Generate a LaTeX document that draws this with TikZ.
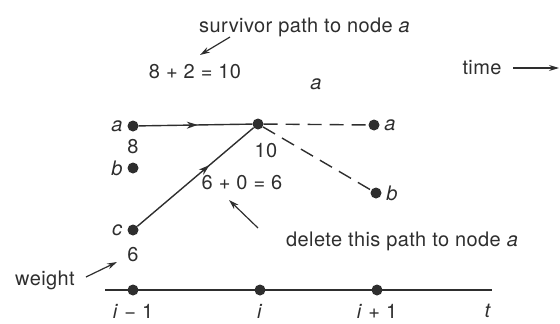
\documentclass[tikz,border=0pt]{standalone}
\usepackage{fontspec}
\setmainfont{TeX Gyre Heros}[LetterSpace=2]
\usetikzlibrary{decorations.markings,arrows.meta}
\definecolor{ink}{HTML}{2E2E2E}
\newcommand{\lblfont}{\fontsize{20}{22}\selectfont}
\tikzset{
  dot/.style={circle,fill=ink,draw=none,inner sep=0pt,minimum size=11pt},
  lbl/.style={text=ink,inner sep=0pt,font=\lblfont},
  ilbl/.style={text=ink,inner sep=0pt,font=\lblfont\itshape},
  conn/.style={draw=ink,line width=1.4pt},
  midarrow/.style={conn,postaction={decorate},decoration={markings,mark=at position #1 with {\arrow{Stealth[length=11pt,width=7pt]}}}},
  dashconn/.style={conn,dash pattern=on 14pt off 8pt},
  note/.style={draw=ink,line width=1.2pt,-{Stealth[length=10pt,width=6pt]}},
}
\begin{document}
\begin{tikzpicture}[x=1pt,y=-1pt]
\useasboundingbox (0,0) rectangle (560,324);
% trellis nodes
\node[dot] (a1) at (133,126) {};
\node[dot] (b1) at (133,168) {};
\node[dot] (c1) at (133,230) {};
\node[dot] (a2) at (258,124) {};
\node[dot] (a3) at (374,125) {};
\node[dot] (b3) at (376,193) {};
% connectors
\draw[midarrow=0.52] (a1) -- (a2);
\draw[midarrow=0.62] (c1) -- (a2);
\draw[dashconn] (a2) -- (a3);
\draw[dashconn] (a2) -- (b3);
% node labels
\node[ilbl] at (117,126) {a};
\node[lbl] at (133,147) {8};
\node[ilbl] at (117,168) {b};
\node[ilbl] at (117,230) {c};
\node[lbl] (w6) at (133,255) {6};
\node[lbl] at (266,151) {10};
\node[ilbl] at (390,125) {a};
\node[ilbl] at (392,193) {b};
\node[ilbl] at (316,84) {a};
\node[lbl] at (195,72) {8 + 2 = 10};
\node[lbl] at (242,183) {6 + 0 = 6};
% annotations
\node[lbl,anchor=west] (surv) at (199,27) {survivor path to node \textit{a}};
\coordinate (survtip) at (200,55);
\draw[note] (230,37) -- (survtip);
\node[lbl,anchor=west] (del) at (286,241) {delete this path to node \textit{a}};
\coordinate (deltip) at (229,200);
\draw[note] (258,228) -- (deltip);
\node[lbl] (wt) at (45,280) {weight};
\coordinate (wttip) at (117,262);
\draw[note] (86,277) -- (wttip);
\node[lbl] (time) at (482,68) {time};
\coordinate (timetip) at (559,68);
\draw[note] (513,68) -- (timetip);
% time axis
\coordinate (ax0) at (105,290);
\coordinate (ax1) at (492,290);
\draw[draw=ink,line width=1.3pt] (ax0) -- (ax1);
\node[dot] (t1) at (133,290) {};
\node[dot] (t2) at (260,290) {};
\node[dot] (t3) at (377,290) {};
\node[lbl,anchor=base] at (133,318) {\textit{i} − 1};
\node[lbl,anchor=base] at (260,318) {\textit{i}};
\node[lbl,anchor=base] at (377,318) {\textit{i} + 1};
\node[lbl,anchor=base] at (488,317) {\textit{t}};
\end{tikzpicture}
\end{document}
